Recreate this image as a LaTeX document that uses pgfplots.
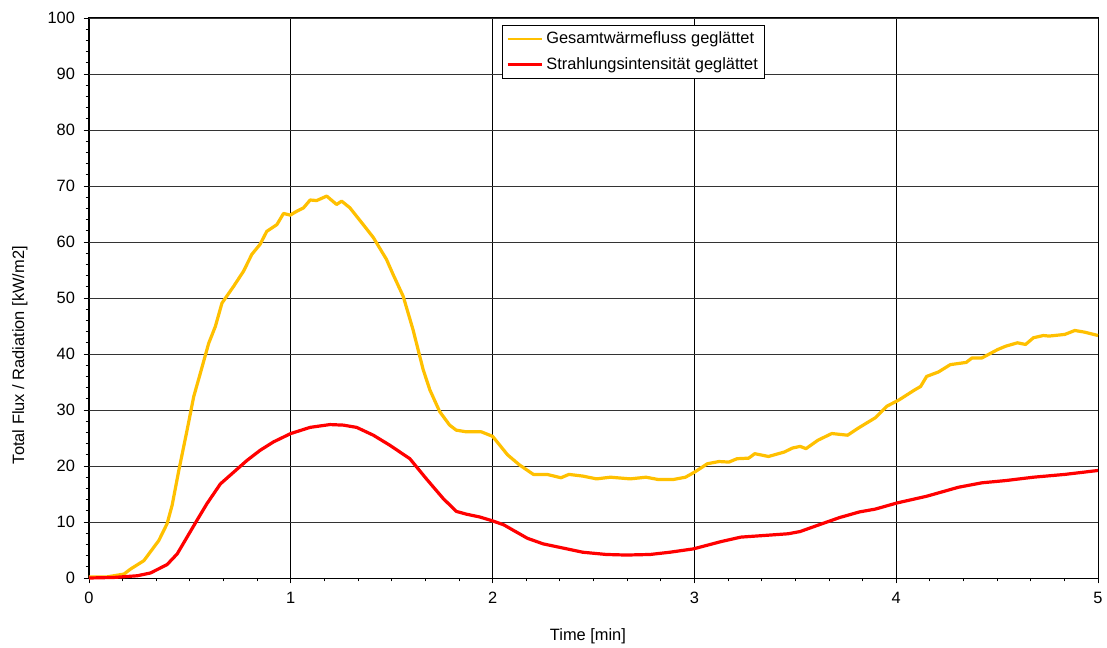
\documentclass[border=0pt]{standalone}
\usepackage{fontspec}
\setmainfont{Liberation Sans}
\usepackage{pgfplots}
\usepackage{pgfplotstable}
\pgfplotsset{compat=1.18}
\definecolor{gold}{HTML}{FFC000}
\definecolor{redline}{HTML}{FF0000}
\pgfplotstableread{
t v
0 0.2
0.09 0.2
0.173 0.7
0.206 1.6
0.272 3.1
0.346 6.7
0.387 9.7
0.412 13.0
0.445 19.2
0.486 26.4
0.519 32.4
0.552 36.6
0.593 41.9
0.626 44.9
0.659 49.1
0.717 52.1
0.766 54.8
0.807 57.8
0.848 59.6
0.881 61.9
0.931 63.1
0.964 65.1
0.997 64.8
1.03 65.5
1.063 66.1
1.096 67.5
1.128 67.4
1.178 68.2
1.227 66.7
1.252 67.3
1.293 66.1
1.326 64.6
1.359 63.1
1.409 60.8
1.474 56.9
1.507 54.2
1.557 50.3
1.606 44.3
1.656 37.2
1.689 33.6
1.738 29.7
1.787 27.3
1.82 26.4
1.87 26.1
1.944 26.1
2.0 25.3
2.074 22.0
2.133 20.2
2.202 18.5
2.27 18.5
2.339 17.9
2.378 18.5
2.447 18.2
2.515 17.7
2.584 18.0
2.682 17.7
2.76 18.0
2.819 17.6
2.897 17.6
2.956 18.0
3.005 19.0
3.064 20.4
3.122 20.8
3.171 20.7
3.211 21.3
3.269 21.4
3.299 22.2
3.367 21.7
3.446 22.5
3.485 23.2
3.524 23.5
3.553 23.1
3.612 24.6
3.681 25.8
3.759 25.5
3.818 26.9
3.896 28.6
3.955 30.7
4.014 31.8
4.092 33.6
4.121 34.2
4.151 36.0
4.21 36.8
4.268 38.1
4.347 38.5
4.376 39.3
4.425 39.3
4.503 40.8
4.543 41.4
4.601 42.0
4.641 41.7
4.68 42.9
4.729 43.3
4.758 43.2
4.836 43.5
4.885 44.2
4.934 43.9
5.0 43.3
}\gesamt
\pgfplotstableread{
t v
0 0
0.124 0.1
0.239 0.4
0.305 0.9
0.387 2.4
0.437 4.3
0.486 7.3
0.535 10.3
0.585 13.3
0.651 16.8
0.717 18.9
0.783 21.0
0.848 22.8
0.914 24.3
1.0 25.8
1.096 26.9
1.194 27.4
1.26 27.3
1.326 26.9
1.409 25.5
1.491 23.7
1.59 21.3
1.672 17.7
1.755 14.2
1.82 11.9
1.87 11.4
1.936 10.9
2.0 10.2
2.055 9.5
2.172 7.1
2.25 6.1
2.329 5.5
2.447 4.6
2.564 4.2
2.662 4.1
2.78 4.2
2.878 4.6
2.995 5.2
3.132 6.5
3.23 7.3
3.348 7.6
3.465 7.9
3.524 8.3
3.602 9.3
3.72 10.8
3.818 11.8
3.896 12.3
4.004 13.4
4.151 14.6
4.308 16.2
4.425 17.0
4.543 17.4
4.68 18.0
4.836 18.5
5.0 19.2
}\strahlung
\begin{document}
\begin{tikzpicture}
\path[use as bounding box] (-66.75pt,-51.75pt) rectangle (763.5pt,433.5pt);
\begin{axis}[
  at={(0,0)}, anchor=south west,
  scale only axis,
  width=756.75pt, height=420pt,
  xmin=0, xmax=5, ymin=0, ymax=100,
  xtick={0,1,2,3,4,5},
  ytick={0,10,...,100},
  minor x tick num=5,
  minor y tick num=4,
  tick align=outside,
  tick pos=left,
  major tick length=4pt,
  minor tick length=2.5pt,
  every tick/.style={black, line width=0.6pt},
  axis line style={black, line width=0.75pt},
  xmajorgrids, ymajorgrids,
  x grid style={black, line width=0.6pt},
  y grid style={black!80, line width=0.6pt},
  /pgf/number format/assume math mode=true,
  ticklabel style={font=\fontsize{12.3}{14}\selectfont},
  xticklabel style={yshift=-3pt},
  yticklabel style={xshift=-3pt},
  label style={font=\fontsize{12.3}{14}\selectfont},
  xlabel={Time [min]},
  ylabel={Total Flux / Radiation [kW/m2]},
  xlabel style={at={(axis description cs:0.4945,-0.1036)}, anchor=center},
  ylabel style={at={(axis description cs:-0.0684,0.398)}, anchor=center},
  clip=false,
  legend cell align=left,
  legend style={at={(rel axis cs:0.409,0.9875)}, anchor=north west,
    font=\fontsize{12.3}{14}\selectfont, draw=black, line width=0.6pt,
    inner xsep=3pt, inner ysep=3pt, row sep=5pt},
  legend image code/.code={\draw[#1, line width=2.2pt] (0pt,0pt) -- (26pt,0pt);},
]
\addplot[gold, line width=2.4pt, line join=round] table[x=t,y=v] {\gesamt};
\addlegendentry{Gesamtwärmefluss geglättet}
\addplot[redline, line width=2.4pt, line join=round] table[x=t,y=v] {\strahlung};
\addlegendentry{Strahlungsintensität geglättet}
\end{axis}
\end{tikzpicture}
\end{document}
